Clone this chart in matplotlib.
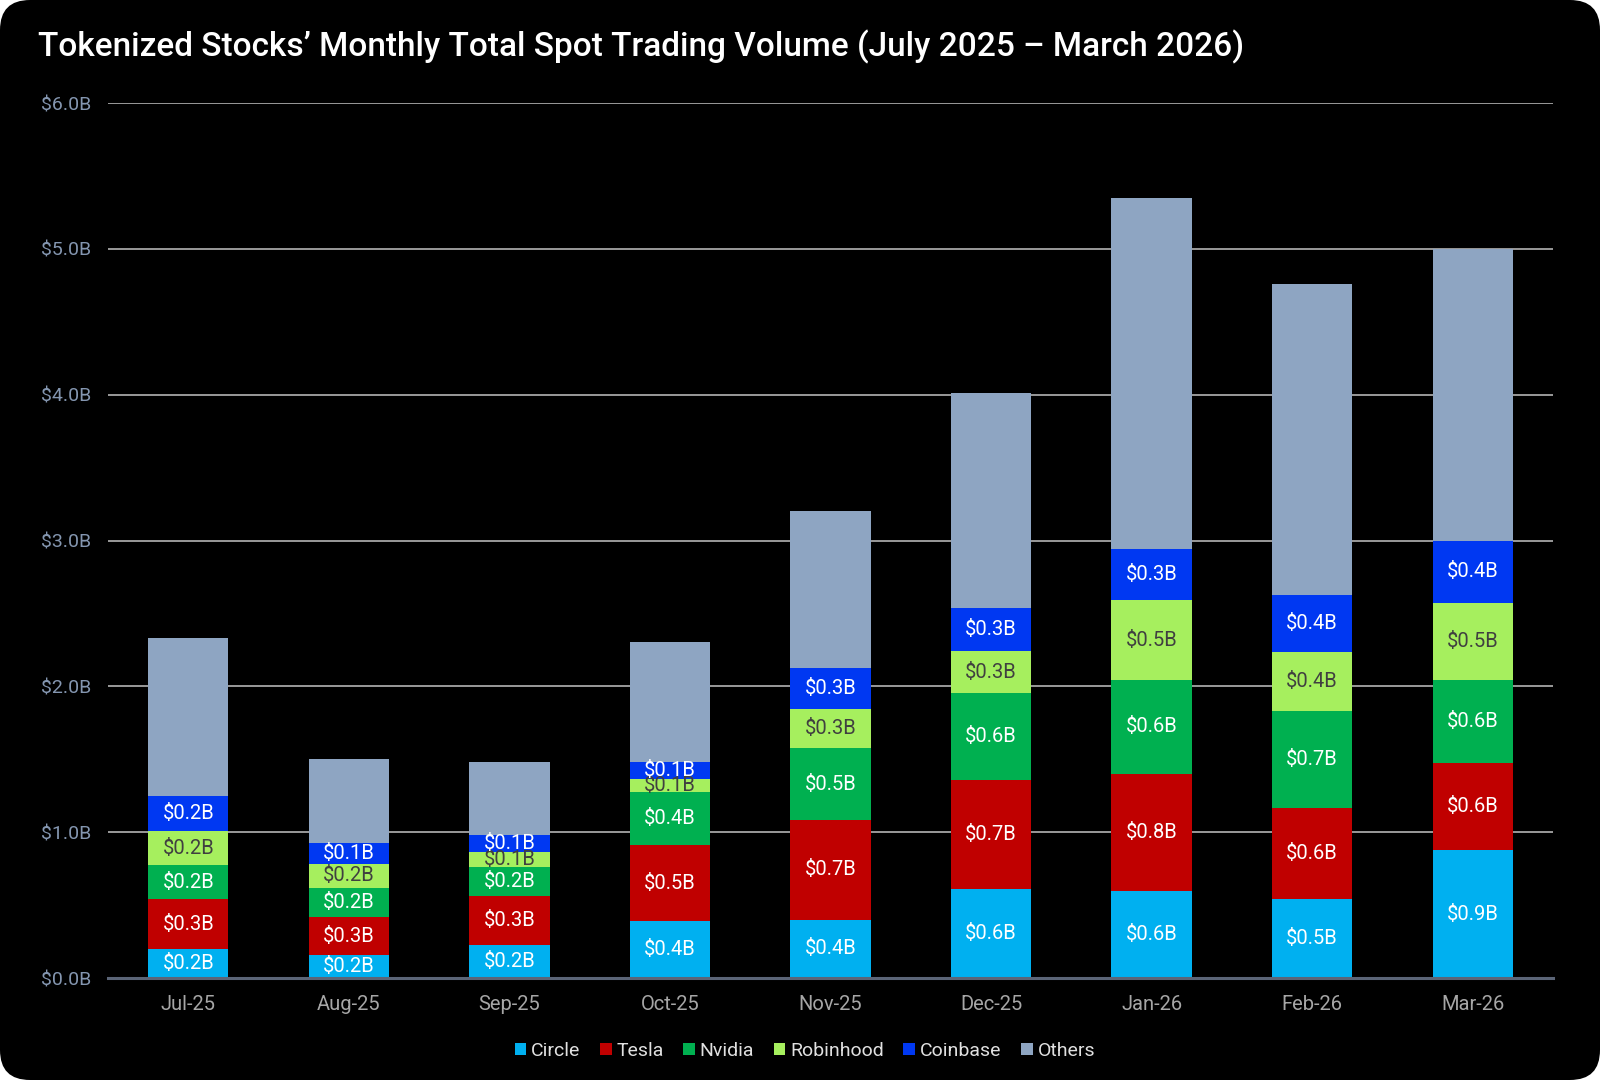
import matplotlib
matplotlib.use("Agg")
import matplotlib.pyplot as plt
from matplotlib.patches import FancyBboxPatch
import numpy as np

plt.rcParams['font.family'] = ['Roboto', 'DejaVu Sans']

# data ($B)
months = ['Jul-25', 'Aug-25', 'Sep-25', 'Oct-25', 'Nov-25', 'Dec-25', 'Jan-26', 'Feb-26', 'Mar-26']
circle = [0.20, 0.155, 0.225, 0.39, 0.40, 0.61, 0.60, 0.545, 0.875]
tesla = [0.34, 0.265, 0.335, 0.52, 0.685, 0.745, 0.80, 0.62, 0.60]
nvidia = [0.235, 0.20, 0.20, 0.365, 0.49, 0.60, 0.645, 0.665, 0.57]
robinhood = [0.23, 0.165, 0.105, 0.09, 0.27, 0.285, 0.545, 0.405, 0.53]
coinbase = [0.24, 0.14, 0.115, 0.115, 0.28, 0.30, 0.35, 0.39, 0.42]
others = [1.085, 0.575, 0.50, 0.825, 1.08, 1.47, 2.41, 2.135, 2.005]
y_ticks = [0, 1, 2, 3, 4, 5, 6]

series = [
    ('Circle', circle, '#00b0f0', 'white'),
    ('Tesla', tesla, '#c00000', 'white'),
    ('Nvidia', nvidia, '#00b050', 'white'),
    ('Robinhood', robinhood, '#a6ef5e', '#404040'),
    ('Coinbase', coinbase, '#0038f2', 'white'),
    ('Others', others, '#8ea5c2', None),
]

fig = plt.figure(figsize=(16, 10.8), dpi=100, facecolor='white')

# black rounded background
bg = fig.add_axes([0, 0, 1, 1], zorder=-10)
bg.set_xlim(0, 1600)
bg.set_ylim(0, 1080)
bg.axis('off')
bg.add_patch(FancyBboxPatch((0, 0), 1600, 1080,
                            boxstyle='round,pad=0,rounding_size=30',
                            facecolor='black', edgecolor='none'))

ax = fig.add_axes([0.0675, 0.0944, 0.9031, 0.8102])
ax.set_facecolor('none')

x = np.arange(len(months))
bottom = np.zeros(len(months))
for name, vals, color, tcolor in series:
    vals = np.array(vals)
    ax.bar(x, vals, 0.5, bottom=bottom, color=color, label=name,
           zorder=3, edgecolor='none')
    if tcolor is not None:
        for xi, b, v in zip(x, bottom, vals):
            ax.text(xi, b + v / 2, f'${v:.1f}B', ha='center', va='center',
                    color=tcolor, fontsize=14.5, zorder=4)
    bottom += vals

ax.set_xlim(-0.5, len(months) - 0.5)
ax.set_ylim(0, 6)
ax.set_yticks(y_ticks)
ax.set_yticklabels([f'${v:.1f}B' for v in y_ticks])
ax.set_xticks(x)
ax.set_xticklabels(months)
ax.tick_params(axis='y', length=0, pad=12, colors='#8496b0', labelsize=14)
ax.tick_params(axis='x', length=0, pad=12, colors='#a6a6a6', labelsize=14.5)

ax.yaxis.grid(True, color='#9a9a9a', linewidth=1.4, zorder=0)
ax.set_axisbelow(True)
for s in ['top', 'right', 'left']:
    ax.spines[s].set_visible(False)
ax.spines['bottom'].set_color('#5b6577')
ax.spines['bottom'].set_linewidth(2.2)
ax.spines['bottom'].set_zorder(5)

fig.text(0.024, 0.957, 'Tokenized Stocks\u2019 Monthly Total Spot Trading Volume (July 2025 \u2013 March 2026)',
         color='white', fontsize=24, fontweight='medium', ha='left', va='center')

leg = fig.legend(loc='center', bbox_to_anchor=(0.503, 0.027), ncol=6, frameon=False,
                 handlelength=0.6, handleheight=0.6, handletextpad=0.25,
                 columnspacing=1.0, fontsize=14, labelcolor='#e0e0e0')

fig.savefig('out.png', dpi=100, facecolor='white')
